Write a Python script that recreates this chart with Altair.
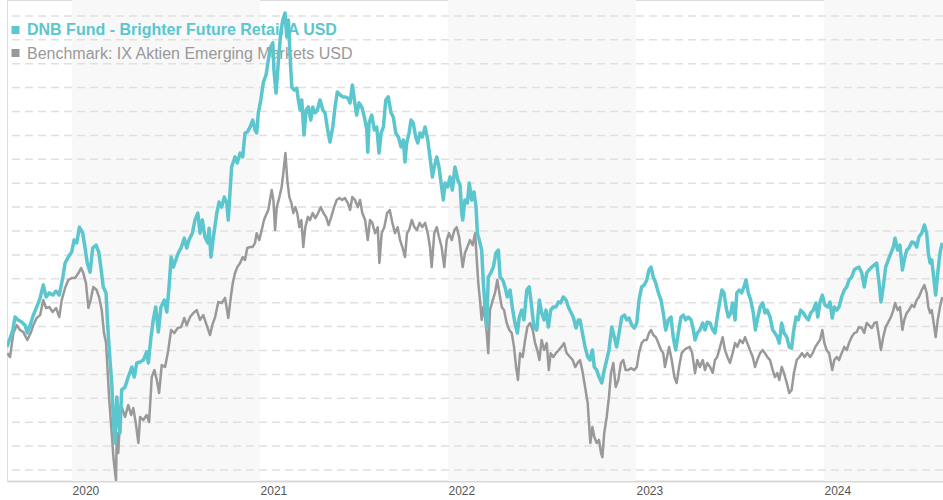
import altair as alt
import pandas as pd

fund_name = "DNB Fund - Brighter Future Retail A USD"
bench_name = "Benchmark: IX Aktien Emerging Markets USD"

fund_year = [
    2019.654, 2019.667, 2019.685, 2019.697, 2019.713, 2019.732, 2019.750, 2019.762, 2019.777, 2019.794,
    2019.812, 2019.830, 2019.847, 2019.862, 2019.879, 2019.897, 2019.915, 2019.932, 2019.951, 2019.963,
    2019.980, 2019.998, 2020.011, 2020.025, 2020.039, 2020.057, 2020.071, 2020.081, 2020.096, 2020.110,
    2020.128, 2020.142, 2020.153, 2020.166, 2020.181, 2020.188, 2020.198, 2020.211, 2020.220, 2020.229,
    2020.238, 2020.246, 2020.255, 2020.264, 2020.282, 2020.299, 2020.318, 2020.331, 2020.344, 2020.362,
    2020.379, 2020.397, 2020.406, 2020.420, 2020.432, 2020.445, 2020.459, 2020.473, 2020.491, 2020.504,
    2020.516, 2020.527, 2020.539, 2020.552, 2020.565, 2020.580, 2020.597, 2020.610, 2020.622, 2020.640,
    2020.654, 2020.669, 2020.681, 2020.693, 2020.707, 2020.722, 2020.729, 2020.739, 2020.752, 2020.770,
    2020.782, 2020.796, 2020.810, 2020.823, 2020.831, 2020.840, 2020.849, 2020.867, 2020.879, 2020.894,
    2020.908, 2020.920, 2020.932, 2020.947, 2020.961, 2020.973, 2020.982, 2020.991, 2021.004, 2021.018,
    2021.032, 2021.044, 2021.057, 2021.068, 2021.074, 2021.085, 2021.097, 2021.110, 2021.121, 2021.133,
    2021.142, 2021.151, 2021.160, 2021.169, 2021.181, 2021.195, 2021.204, 2021.213, 2021.222, 2021.234,
    2021.245, 2021.257, 2021.270, 2021.280, 2021.293, 2021.305, 2021.319, 2021.334, 2021.346, 2021.358,
    2021.372, 2021.387, 2021.399, 2021.411, 2021.426, 2021.440, 2021.452, 2021.467, 2021.479, 2021.491,
    2021.502, 2021.514, 2021.527, 2021.541, 2021.555, 2021.568, 2021.573, 2021.580, 2021.594, 2021.608,
    2021.621, 2021.633, 2021.644, 2021.656, 2021.669, 2021.682, 2021.697, 2021.709, 2021.722, 2021.736,
    2021.750, 2021.762, 2021.771, 2021.780, 2021.793, 2021.803, 2021.815, 2021.828, 2021.839, 2021.851,
    2021.863, 2021.878, 2021.892, 2021.904, 2021.917, 2021.927, 2021.940, 2021.952, 2021.963, 2021.975,
    2021.984, 2021.998, 2022.011, 2022.023, 2022.037, 2022.052, 2022.064, 2022.073, 2022.078, 2022.090,
    2022.103, 2022.113, 2022.126, 2022.138, 2022.149, 2022.156, 2022.166, 2022.179, 2022.188, 2022.197,
    2022.206, 2022.214, 2022.227, 2022.241, 2022.255, 2022.268, 2022.277, 2022.291, 2022.303, 2022.315,
    2022.330, 2022.344, 2022.356, 2022.369, 2022.379, 2022.392, 2022.404, 2022.419, 2022.432, 2022.445,
    2022.457, 2022.472, 2022.486, 2022.498, 2022.511, 2022.521, 2022.534, 2022.546, 2022.560, 2022.574,
    2022.587, 2022.599, 2022.613, 2022.628, 2022.640, 2022.653, 2022.666, 2022.681, 2022.693, 2022.702,
    2022.714, 2022.729, 2022.743, 2022.755, 2022.768, 2022.778, 2022.791, 2022.803, 2022.818, 2022.831,
    2022.844, 2022.856, 2022.871, 2022.885, 2022.897, 2022.910, 2022.924, 2022.938, 2022.951, 2022.963,
    2022.977, 2022.991, 2023.004, 2023.016, 2023.030, 2023.044, 2023.057, 2023.069, 2023.080, 2023.092,
    2023.105, 2023.119, 2023.133, 2023.145, 2023.158, 2023.172, 2023.186, 2023.198, 2023.211, 2023.225,
    2023.239, 2023.252, 2023.264, 2023.278, 2023.293, 2023.305, 2023.314, 2023.326, 2023.340, 2023.355,
    2023.367, 2023.379, 2023.394, 2023.408, 2023.420, 2023.432, 2023.447, 2023.457, 2023.468, 2023.479,
    2023.491, 2023.504, 2023.514, 2023.527, 2023.536, 2023.549, 2023.562, 2023.574, 2023.585, 2023.597,
    2023.610, 2023.624, 2023.635, 2023.645, 2023.660, 2023.674, 2023.686, 2023.698, 2023.713, 2023.727,
    2023.739, 2023.752, 2023.762, 2023.775, 2023.787, 2023.802, 2023.815, 2023.828, 2023.837, 2023.851,
    2023.863, 2023.876, 2023.890, 2023.904, 2023.917, 2023.929, 2023.943, 2023.957, 2023.967, 2023.979,
    2023.991, 2024.005, 2024.020, 2024.032, 2024.044, 2024.055, 2024.068, 2024.080, 2024.094, 2024.108,
    2024.121, 2024.133, 2024.147, 2024.161, 2024.174, 2024.186, 2024.201, 2024.214, 2024.227, 2024.239,
    2024.254, 2024.268, 2024.280, 2024.293, 2024.303, 2024.315, 2024.328, 2024.342, 2024.356, 2024.369,
    2024.378, 2024.392, 2024.404, 2024.417, 2024.427, 2024.440, 2024.452, 2024.467, 2024.480, 2024.493,
    2024.505, 2024.520, 2024.534, 2024.546, 2024.555, 2024.564, 2024.573, 2024.581, 2024.594, 2024.605,
    2024.617, 2024.629,
]

fund_value = [
    101.5, 104.4, 108.6, 114.0, 112.8, 111.9, 110.6, 107.3, 110.6, 114.8,
    118.2, 121.9, 127.4, 122.4, 124.1, 123.2, 124.9, 123.2, 130.7, 136.6,
    139.1, 141.2, 146.2, 145.0, 151.6, 149.1, 142.0, 136.6, 132.8, 142.9,
    144.1, 141.2, 134.9, 126.6, 124.1, 112.8, 100.2, 86.4, 70.9, 61.3,
    80.5, 72.2, 65.5, 83.5, 84.7, 88.9, 93.1, 88.9, 94.8, 95.2,
    96.0, 99.4, 94.8, 105.7, 112.8, 118.2, 107.7, 118.2, 121.1, 116.1,
    126.6, 139.1, 134.9, 137.9, 140.8, 142.9, 147.0, 142.9, 146.2, 149.1,
    154.6, 157.5, 149.1, 154.6, 147.5, 145.0, 151.2, 139.1, 147.5, 157.5,
    162.1, 160.0, 164.2, 161.7, 154.6, 165.9, 176.8, 181.0, 178.5, 182.6,
    181.0, 191.0, 191.4, 193.5, 196.4, 192.3, 191.0, 199.4, 204.8, 212.3,
    215.3, 221.5, 227.0, 228.7, 217.4, 207.7, 220.3, 232.8, 238.3, 241.2,
    231.2, 238.3, 222.8, 210.2, 209.0, 209.8, 204.8, 200.6, 204.8, 190.2,
    200.6, 201.9, 196.4, 201.9, 199.4, 200.6, 204.8, 200.6, 199.4, 193.1,
    187.2, 193.5, 201.9, 208.2, 206.9, 206.1, 206.1, 205.6, 203.6, 211.1,
    204.8, 198.5, 203.6, 201.9, 197.7, 192.3, 183.0, 195.2, 198.5, 192.3,
    193.5, 182.6, 191.0, 193.5, 204.8, 206.1, 199.4, 197.7, 191.0, 189.3,
    185.2, 188.1, 178.9, 186.8, 191.0, 196.4, 195.2, 189.3, 186.8, 191.0,
    189.3, 193.5, 188.1, 181.0, 172.6, 176.8, 181.0, 176.8, 170.1, 163.0,
    170.1, 168.4, 172.6, 167.1, 176.8, 171.3, 169.2, 157.5, 154.6, 163.0,
    161.7, 170.1, 163.0, 166.3, 160.0, 149.1, 146.2, 142.0, 128.2, 118.2,
    109.8, 130.7, 132.4, 134.9, 140.8, 142.0, 130.7, 129.5, 126.6, 122.4,
    125.3, 116.9, 111.5, 107.3, 114.0, 116.9, 112.8, 125.3, 126.6, 118.2,
    109.8, 108.6, 121.1, 115.7, 112.8, 116.9, 109.8, 116.9, 118.2, 118.2,
    120.3, 119.9, 122.4, 121.1, 118.2, 116.1, 114.0, 109.4, 112.8, 112.8,
    107.7, 101.5, 97.3, 96.0, 100.2, 93.1, 91.8, 88.9, 86.4, 91.8,
    96.0, 100.2, 109.8, 105.6, 101.5, 107.3, 114.0, 114.8, 112.8, 113.6,
    110.6, 109.4, 111.5, 121.1, 126.6, 127.4, 129.5, 133.7, 134.9, 130.7,
    128.2, 124.1, 121.1, 115.7, 108.6, 112.8, 114.0, 105.6, 100.2, 107.3,
    114.0, 114.8, 112.8, 114.0, 112.8, 108.6, 104.4, 107.3, 108.6, 111.5,
    108.6, 111.9, 111.5, 108.6, 107.3, 114.0, 121.1, 125.3, 124.1, 118.2,
    114.0, 115.7, 119.9, 112.8, 124.1, 125.3, 124.1, 126.6, 129.5, 124.1,
    121.1, 115.7, 108.6, 112.8, 118.2, 119.9, 115.7, 116.9, 114.0, 108.6,
    107.3, 105.6, 103.1, 111.5, 107.3, 105.6, 101.5, 101.0, 107.3, 114.0,
    112.8, 116.9, 115.7, 114.0, 112.8, 115.7, 116.9, 119.9, 114.0, 120.3,
    123.2, 119.0, 118.2, 120.3, 113.6, 118.2, 116.9, 118.2, 122.4, 125.3,
    126.6, 129.5, 130.7, 133.7, 134.5, 134.9, 132.4, 126.6, 132.4, 133.7,
    134.9, 135.8, 136.6, 128.2, 120.3, 126.6, 134.9, 137.9, 140.8, 143.3,
    147.0, 142.0, 144.1, 133.7, 137.9, 142.0, 142.9, 145.4, 145.0, 143.3,
    147.5, 149.1, 152.5, 149.1, 140.8, 136.6, 137.9, 132.4, 123.2, 132.4,
    140.8, 145.0,
]

bench_year = [
    2019.656, 2019.670, 2019.688, 2019.706, 2019.723, 2019.741, 2019.762, 2019.780, 2019.794, 2019.812,
    2019.830, 2019.847, 2019.862, 2019.879, 2019.897, 2019.915, 2019.932, 2019.945, 2019.963, 2019.980,
    2019.998, 2020.016, 2020.034, 2020.048, 2020.060, 2020.074, 2020.087, 2020.099, 2020.113, 2020.131,
    2020.145, 2020.158, 2020.170, 2020.181, 2020.188, 2020.198, 2020.211, 2020.220, 2020.229, 2020.234,
    2020.238, 2020.246, 2020.255, 2020.264, 2020.282, 2020.299, 2020.314, 2020.326, 2020.339, 2020.353,
    2020.362, 2020.379, 2020.397, 2020.410, 2020.424, 2020.438, 2020.451, 2020.463, 2020.477, 2020.495,
    2020.512, 2020.527, 2020.544, 2020.562, 2020.580, 2020.597, 2020.610, 2020.628, 2020.645, 2020.663,
    2020.681, 2020.698, 2020.716, 2020.734, 2020.746, 2020.761, 2020.778, 2020.796, 2020.814, 2020.831,
    2020.846, 2020.855, 2020.867, 2020.879, 2020.894, 2020.908, 2020.920, 2020.932, 2020.947, 2020.961,
    2020.973, 2020.982, 2020.996, 2021.009, 2021.021, 2021.032, 2021.044, 2021.053, 2021.062, 2021.071,
    2021.080, 2021.089, 2021.103, 2021.115, 2021.124, 2021.135, 2021.145, 2021.156, 2021.167, 2021.177,
    2021.188, 2021.198, 2021.209, 2021.220, 2021.230, 2021.241, 2021.255, 2021.266, 2021.280, 2021.294,
    2021.309, 2021.323, 2021.337, 2021.351, 2021.365, 2021.379, 2021.394, 2021.408, 2021.422, 2021.436,
    2021.451, 2021.467, 2021.479, 2021.491, 2021.505, 2021.520, 2021.532, 2021.544, 2021.559, 2021.573,
    2021.585, 2021.597, 2021.612, 2021.626, 2021.635, 2021.647, 2021.661, 2021.676, 2021.690, 2021.704,
    2021.718, 2021.732, 2021.745, 2021.757, 2021.771, 2021.782, 2021.793, 2021.807, 2021.821, 2021.835,
    2021.849, 2021.863, 2021.878, 2021.892, 2021.904, 2021.913, 2021.927, 2021.940, 2021.952, 2021.966,
    2021.980, 2021.993, 2022.005, 2022.020, 2022.034, 2022.046, 2022.059, 2022.069, 2022.078, 2022.090,
    2022.103, 2022.117, 2022.131, 2022.144, 2022.153, 2022.161, 2022.170, 2022.179, 2022.188, 2022.197,
    2022.206, 2022.214, 2022.223, 2022.238, 2022.250, 2022.262, 2022.273, 2022.286, 2022.298, 2022.312,
    2022.326, 2022.339, 2022.351, 2022.362, 2022.372, 2022.383, 2022.397, 2022.410, 2022.422, 2022.436,
    2022.451, 2022.463, 2022.475, 2022.486, 2022.498, 2022.511, 2022.525, 2022.536, 2022.546, 2022.560,
    2022.574, 2022.589, 2022.603, 2022.617, 2022.631, 2022.649, 2022.663, 2022.677, 2022.693, 2022.702,
    2022.714, 2022.729, 2022.743, 2022.750, 2022.757, 2022.768, 2022.778, 2022.791, 2022.803, 2022.814,
    2022.821, 2022.831, 2022.844, 2022.856, 2022.867, 2022.879, 2022.892, 2022.906, 2022.920, 2022.932,
    2022.945, 2022.959, 2022.973, 2022.991, 2023.004, 2023.016, 2023.030, 2023.044, 2023.057, 2023.069,
    2023.080, 2023.092, 2023.105, 2023.119, 2023.133, 2023.145, 2023.154, 2023.165, 2023.176, 2023.190,
    2023.204, 2023.216, 2023.229, 2023.243, 2023.257, 2023.271, 2023.286, 2023.299, 2023.314, 2023.326,
    2023.340, 2023.355, 2023.367, 2023.379, 2023.394, 2023.408, 2023.420, 2023.432, 2023.447, 2023.461,
    2023.473, 2023.486, 2023.500, 2023.514, 2023.527, 2023.539, 2023.553, 2023.568, 2023.580, 2023.592,
    2023.606, 2023.621, 2023.633, 2023.645, 2023.660, 2023.674, 2023.686, 2023.698, 2023.713, 2023.727,
    2023.739, 2023.752, 2023.762, 2023.775, 2023.787, 2023.802, 2023.815, 2023.828, 2023.840, 2023.855,
    2023.869, 2023.883, 2023.897, 2023.911, 2023.926, 2023.940, 2023.954, 2023.967, 2023.979, 2023.991,
    2024.002, 2024.014, 2024.027, 2024.037, 2024.044, 2024.055, 2024.068, 2024.080, 2024.094, 2024.108,
    2024.121, 2024.133, 2024.147, 2024.161, 2024.174, 2024.186, 2024.201, 2024.214, 2024.227, 2024.239,
    2024.254, 2024.268, 2024.280, 2024.293, 2024.303, 2024.315, 2024.328, 2024.342, 2024.356, 2024.369,
    2024.378, 2024.392, 2024.404, 2024.417, 2024.427, 2024.440, 2024.452, 2024.467, 2024.480, 2024.493,
    2024.505, 2024.520, 2024.534, 2024.546, 2024.555, 2024.564, 2024.573, 2024.581, 2024.594, 2024.605,
    2024.617, 2024.629,
]

bench_value = [
    98.9, 97.3, 107.3, 110.6, 108.6, 107.7, 104.4, 107.3, 110.6, 113.6,
    114.8, 121.1, 117.8, 118.2, 116.1, 117.8, 114.0, 121.1, 126.2, 129.5,
    130.3, 130.3, 132.4, 134.5, 132.4, 128.2, 117.8, 121.1, 126.6, 125.3,
    122.0, 116.9, 107.3, 103.1, 93.1, 79.3, 65.5, 55.4, 48.7, 45.8,
    65.5, 57.1, 70.9, 76.3, 72.2, 77.2, 73.0, 75.9, 69.6, 61.3,
    72.2, 70.9, 73.0, 70.1, 88.9, 91.8, 87.6, 82.2, 93.9, 93.1,
    100.2, 108.6, 107.3, 109.4, 109.8, 113.6, 110.6, 114.0, 115.7, 116.9,
    112.8, 114.8, 110.6, 106.5, 110.6, 114.0, 120.3, 119.9, 122.0, 113.6,
    123.2, 128.2, 132.4, 134.9, 136.6, 139.1, 137.9, 142.9, 143.3, 143.3,
    145.0, 149.1, 146.2, 150.4, 154.6, 156.7, 158.8, 163.0, 167.2, 163.0,
    150.4, 160.0, 164.2, 168.4, 174.3, 182.6, 171.3, 164.2, 161.7, 157.5,
    160.0, 157.5, 151.6, 154.6, 143.3, 151.6, 155.9, 154.6, 157.5, 155.4,
    157.5, 160.0, 157.5, 155.9, 152.5, 155.9, 160.0, 163.0, 163.8, 163.0,
    163.8, 161.7, 158.8, 164.2, 163.0, 160.0, 163.0, 157.5, 154.6, 146.2,
    154.6, 153.4, 149.1, 151.6, 136.6, 149.1, 151.6, 157.5, 158.8, 153.4,
    149.1, 151.6, 146.2, 143.3, 139.1, 149.1, 150.4, 154.6, 151.6, 150.4,
    153.4, 151.6, 153.4, 149.1, 143.3, 134.9, 149.1, 151.6, 147.5, 143.3,
    134.9, 146.2, 149.1, 146.2, 150.4, 151.6, 147.5, 140.8, 134.9, 140.8,
    143.3, 146.2, 144.1, 149.1, 137.9, 128.2, 121.1, 112.8, 118.2, 114.0,
    107.3, 98.9, 116.9, 121.1, 124.1, 129.5, 124.1, 118.2, 116.9, 111.5,
    108.6, 107.3, 101.5, 93.1, 87.7, 98.9, 97.3, 104.4, 109.8, 111.5,
    108.6, 103.1, 100.2, 96.0, 104.4, 100.2, 103.1, 91.8, 98.9, 97.3,
    98.9, 100.2, 101.5, 103.1, 98.9, 97.3, 96.0, 93.1, 95.2, 96.0,
    91.8, 84.7, 78.0, 69.6, 61.3, 68.0, 63.8, 61.3, 62.6, 57.1,
    55.4, 65.5, 72.2, 80.5, 90.6, 94.8, 84.7, 87.7, 94.8, 96.0,
    91.8, 91.8, 92.6, 91.8, 93.1, 98.9, 103.1, 104.4, 104.4, 107.3,
    108.6, 106.5, 105.6, 103.1, 100.2, 98.9, 93.1, 97.3, 101.5, 96.0,
    88.9, 86.4, 93.1, 98.9, 100.2, 101.0, 101.5, 98.9, 90.6, 96.0,
    93.1, 96.0, 91.8, 94.8, 93.1, 90.6, 96.0, 97.3, 101.5, 105.6,
    100.2, 97.3, 94.8, 98.9, 103.1, 101.5, 104.4, 103.1, 105.6, 103.1,
    100.2, 97.3, 93.1, 96.0, 98.9, 100.2, 98.9, 97.3, 96.0, 91.8,
    88.9, 90.6, 87.7, 93.1, 90.6, 86.4, 82.2, 83.5, 90.6, 96.0,
    97.3, 98.9, 97.3, 98.9, 97.3, 98.9, 101.5, 103.1, 104.4, 108.6,
    103.1, 100.2, 98.9, 94.8, 91.8, 96.0, 97.3, 96.0, 98.9, 101.5,
    100.2, 103.1, 105.6, 107.3, 107.7, 109.8, 109.4, 107.3, 111.5, 110.6,
    109.4, 111.5, 111.9, 105.6, 100.2, 105.6, 109.8, 111.9, 114.0, 116.9,
    119.9, 116.9, 118.2, 108.6, 112.8, 115.7, 116.9, 119.0, 118.2, 121.1,
    122.4, 125.3, 127.4, 124.1, 118.2, 115.7, 116.9, 112.8, 105.6, 112.8,
    118.2, 122.4,
]

year_ticks = [2020, 2021, 2022, 2023, 2024]
band_start = [2020, 2022, 2024]
band_end = [2021, 2023, 2025]
grid_values = list(range(50, 250, 10))
x_domain = [2019.654, 2024.633]
y_domain = [45.4, 246.65]

TEAL = "#5bc6ce"
GRAY = "#999999"
FONT = "Liberation Sans"
W, H = 936, 481

fund = pd.DataFrame({"year": fund_year, "value": fund_value})
bench = pd.DataFrame({"year": bench_year, "value": bench_value})
bands = pd.DataFrame({"start": band_start, "end": band_end})
grid = pd.DataFrame({"value": grid_values})

xs = alt.Scale(domain=x_domain, nice=False, zero=False)
ys = alt.Scale(domain=y_domain, nice=False, zero=False)
x_axis = alt.Axis(
    values=year_ticks, format="d", title=None, grid=False, ticks=False,
    labelAlign="left", labelBaseline="top", labelPadding=4, labelFontSize=12,
    labelFont=FONT, labelColor="#555555", labelOverlap=False, labelFlush=False,
    domainColor="#d9d9d9", domainWidth=2,
)

band_layer = alt.Chart(bands).mark_rect(color="#f8f8f8", clip=True).encode(
    x=alt.X("start:Q", scale=xs, axis=x_axis),
    x2="end:Q",
    y=alt.value(0),
    y2=alt.value(H),
)

grid_layer = alt.Chart(grid).mark_rule(
    color="#e0e0e0", strokeWidth=1.5, strokeDash=[8, 5]
).encode(y=alt.Y("value:Q", scale=ys, axis=None))

legend_df = pd.DataFrame({"t": [fund_name]})
legend_df2 = pd.DataFrame({"t": [bench_name]})
leg1 = alt.Chart(legend_df).mark_text(
    align="left", baseline="alphabetic", fontSize=16, fontWeight="bold",
    font=FONT, color=TEAL
).encode(text="t:N", x=alt.value(20), y=alt.value(35))
leg2 = alt.Chart(legend_df2).mark_text(
    align="left", baseline="alphabetic", fontSize=16, font=FONT, color=GRAY
).encode(text="t:N", x=alt.value(20), y=alt.value(58.5))
sq1 = alt.Chart(legend_df).mark_square(size=64, color=TEAL, opacity=1).encode(
    x=alt.value(8.5), y=alt.value(30))
sq2 = alt.Chart(legend_df2).mark_square(size=64, color=GRAY, opacity=1).encode(
    x=alt.value(8.5), y=alt.value(53))

bench_line = alt.Chart(bench).mark_line(
    color=GRAY, strokeWidth=2.5, strokeJoin="round", clip=True
).encode(
    x=alt.X("year:Q", scale=xs, axis=x_axis),
    y=alt.Y("value:Q", scale=ys, axis=None),
)
fund_line = alt.Chart(fund).mark_line(
    color=TEAL, strokeWidth=3.5, strokeJoin="round", clip=True
).encode(
    x=alt.X("year:Q", scale=xs, axis=x_axis),
    y=alt.Y("value:Q", scale=ys, axis=None),
)

chart = alt.layer(
    band_layer, grid_layer, sq1, sq2, leg1, leg2, bench_line, fund_line
).properties(
    width=W, height=H,
    padding={"left": 7, "top": 0, "right": 0, "bottom": 19},
    autosize=alt.AutoSizeParams(type="none"),
).configure_view(stroke=None).configure(background="white")

chart.save("out.html", embed_options={"renderer": "svg", "actions": False})
